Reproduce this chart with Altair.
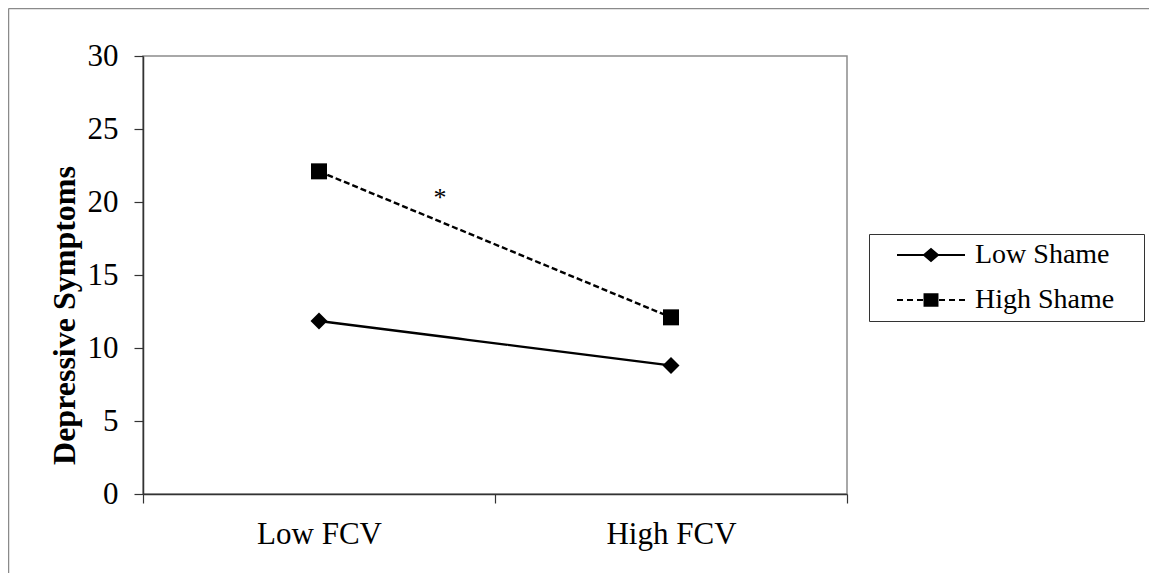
import altair as alt
import pandas as pd

# ---- data ----
categories = ["Low FCV", "High FCV"]
series_names = ["Low Shame", "High Shame"]
low_shame = [11.85, 8.8]
high_shame = [22.1, 12.1]
y_ticks = [0, 5, 10, 15, 20, 25, 30]
star_category = ["Low FCV"]
star_value = [19.7]
star_text = ["*"]

rows = []
for name, vals in zip(series_names, [low_shame, high_shame]):
    for cat, v in zip(categories, vals):
        rows.append({"FCV": cat, "Series": name, "Value": v})
df = pd.DataFrame(rows)
star_df = pd.DataFrame({"FCV": star_category, "Value": star_value, "Text": star_text})
frame_df = pd.DataFrame({"k": [0]})

FONT = "Liberation Serif"
AXIS_COLOR = "#333333"

x_scale = alt.Scale(type="band", domain=categories, paddingInner=0, paddingOuter=0)
y_scale = alt.Scale(domain=[0, 30], nice=False)

x_axis = alt.Axis(
    title=None, tickBand="extent", grid=False, labelAngle=0,
    domainColor=AXIS_COLOR, domainWidth=1.5, tickColor=AXIS_COLOR, tickWidth=1.2,
    tickSize=9, labelFont=FONT, labelFontSize=31, labelColor="black",
    labelPadding=16, zindex=1,
)
y_axis = alt.Axis(
    values=y_ticks, grid=False, title="Depressive Symptoms",
    domainColor=AXIS_COLOR, domainWidth=1.5, tickColor=AXIS_COLOR, tickWidth=1.2,
    tickSize=9, labelFont=FONT, labelFontSize=31, labelColor="black",
    labelPadding=16, titleFont=FONT, titleFontSize=32, titleFontWeight="bold",
    titleColor="black", titlePadding=6, titleY=259, titleAlign="center", zindex=1,
)

x_enc = alt.X("FCV:N", scale=x_scale, sort=categories, axis=x_axis)
y_enc = alt.Y("Value:Q", scale=y_scale, axis=y_axis)

lines = alt.Chart(df).mark_line(color="black", strokeWidth=2.4).encode(
    x=x_enc,
    y=y_enc,
    strokeDash=alt.StrokeDash(
        "Series:N",
        scale=alt.Scale(domain=series_names, range=[[10, 0], [6, 3]]),
        legend=None,
    ),
)

points = alt.Chart(df).mark_point(filled=True, color="black", opacity=1).encode(
    x=x_enc,
    y=y_enc,
    shape=alt.Shape(
        "Series:N",
        scale=alt.Scale(domain=series_names, range=["diamond", "square"]),
        legend=None,
    ),
    size=alt.Size(
        "Series:N",
        scale=alt.Scale(domain=series_names, range=[289, 256]),
        legend=None,
    ),
)

# legend glyphs: line (as thin filled bars) with a marker in the middle
T = 0.03
def bar(a, b):
    return f"M{a},{-T}L{b},{-T}L{b},{T}L{a},{T}Z"

path_low = bar(-1, 1) + "M-0.25,0L0,-0.21L0.25,0L0,0.21Z"
path_high = (
    bar(-1, -0.824) + bar(-0.706, -0.529) + bar(-0.412, -0.235)
    + bar(0.235, 0.412) + bar(0.529, 0.706) + bar(0.824, 1)
    + "M-0.22,-0.2L0.22,-0.2L0.22,0.2L-0.22,0.2Z"
)

legend_layer = alt.Chart(df).transform_filter("false").mark_point(
    filled=True, color="black"
).encode(
    shape=alt.Shape(
        "Series:N",
        scale=alt.Scale(domain=series_names, range=[path_low, path_high]),
        legend=alt.Legend(
            # zero-width title on the right only widens the box to the original's size
            title="\u200b", titleOrient="right", titlePadding=24, titleFontSize=2,
            orient="none", legendX=726, legendY=178,
            padding=6, strokeColor=AXIS_COLOR, fillColor="white",
            labelFont=FONT, labelFontSize=28, labelColor="black",
            labelLimit=400,
            symbolSize=4624, symbolFillColor="black",
            symbolStrokeWidth=0, symbolOpacity=1, symbolOffset=22,
            labelOffset=10, clipHeight=30, rowPadding=15,
        ),
    ),
)

star = alt.Chart(star_df).mark_text(
    font=FONT, fontSize=26, color="black", baseline="alphabetic", align="center", dx=121
).encode(
    x=alt.X("FCV:N", scale=x_scale, sort=categories),
    y=alt.Y("Value:Q", scale=y_scale),
    text="Text:N",
)

frame_top = alt.Chart(frame_df).mark_rule(color="#8a8a8a", strokeWidth=1.5).encode(
    x=alt.value(-134.5), x2=alt.value(1010), y=alt.value(-47.5)
)
frame_left = alt.Chart(frame_df).mark_rule(color="#8a8a8a", strokeWidth=1.5).encode(
    x=alt.value(-134.5), y=alt.value(-47.5), y2=alt.value(520)
)

chart = (
    alt.layer(frame_top, frame_left, lines, points, star, legend_layer)
    .resolve_scale(shape="independent", size="independent", strokeDash="independent")
    .properties(
        width=704,
        height=438,
        autosize="none",
        padding={"left": 135, "top": 48, "right": 302, "bottom": 79},
        background="white",
    )
    .configure_view(stroke="#8c8c8c", strokeWidth=1.5)
)

chart.save("out.html", embed_options={"renderer": "svg", "actions": False})
